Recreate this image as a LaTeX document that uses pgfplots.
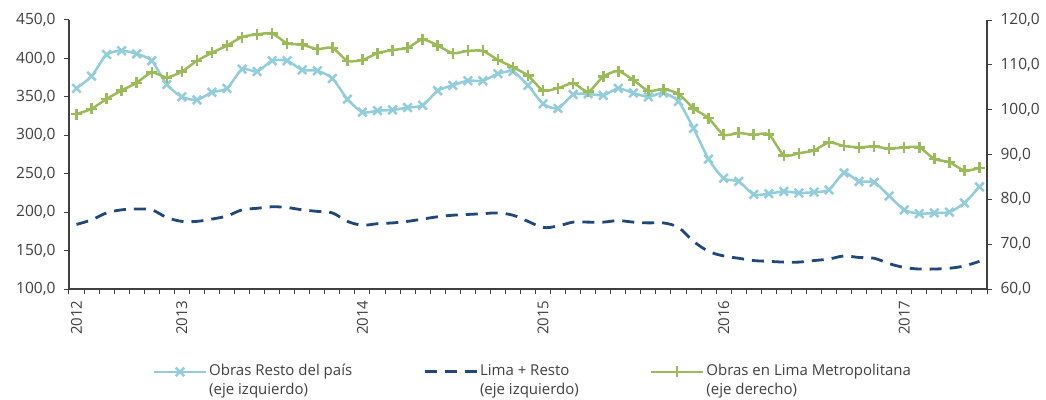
\documentclass[border=0pt]{standalone}
\usepackage{pgfplots}
\usepackage{pgfplotstable}
\pgfplotsset{compat=1.18}
\usepackage{fontspec}
\setmainfont{Open Sans}
\definecolor{cblue}{HTML}{92CDDC}
\definecolor{cgreen}{HTML}{9BBB59}
\definecolor{cdark}{HTML}{1F497D}
\definecolor{ctext}{HTML}{404040}
\definecolor{caxis}{HTML}{404040}

\pgfplotstableread{
i resto lima green
0 361 184 99.0
1 377 190 100.2
2 405 199 102.4
3 410 203 104.3
4 406 204 106.0
5 397 203 108.3
6 366 193 107.2
7 350 188 108.5
8 346 188 110.9
9 356 191 112.7
10 361 195 114.3
11 386 203 116.2
12 383 205 116.8
13 397 207 117.0
14 397 206 114.8
15 385 203 114.5
16 384 201 113.5
17 374 199 113.8
18 347 188 110.9
19 330 183 111.1
20 332 185 112.6
21 333 186 113.3
22 336 188 113.8
23 339 191 115.7
24 358 194 114.3
25 365 196 112.6
26 371 197 113.1
27 371 198 113.1
28 380 199 111.1
29 383 196 109.5
30 365 188 107.6
31 341 180 104.3
32 335 182 104.8
33 353 187 105.9
34 354 187 104.0
35 352 187 107.4
36 361 189 108.6
37 355 187 106.6
38 350 186 104.2
39 355 186 104.6
40 344 180 103.5
41 309 162 100.3
42 269 149 98.1
43 244 143 94.4
44 240 140 94.8
45 223 137 94.4
46 224 136 94.5
47 227 135 89.8
48 225 135 90.3
49 226 137 90.9
50 229 139 92.7
51 251 143 91.9
52 240 141 91.6
53 239 140 91.8
54 221 133 91.3
55 203 128 91.6
56 198 126 91.6
57 199 126 89.0
58 200 127 88.3
59 212 130 86.4
60 233 136 87.0
}\data

\begin{document}
\begin{tikzpicture}[font=\fontsize{15}{21}\selectfont]
\pgfplotsset{
  common/.style={
    at={(0,0)}, anchor=south west, scale only axis,
    width=918pt, height=269pt,
    xmin=-0.5, xmax=60.5,
    axis line style={caxis, line width=1.2pt},
    tick style={caxis, line width=1pt},
    tick align=outside,
    major tick length=5pt,
    ticklabel style={text=ctext, font=\fontsize{15.5}{18}\selectfont},
    /pgf/number format/assume math mode=true,
    yticklabel style={/pgf/number format/fixed, /pgf/number format/fixed zerofill,
      /pgf/number format/precision=1, /pgf/number format/use comma,
      /pgf/number format/1000 sep={}},
  },
}
\begin{axis}[common,
  ymin=100, ymax=450, ytick={100,150,...,450},
  axis y line*=left, axis x line*=bottom,
  yticklabel style={xshift=-5pt},
  xtick={-0.5,0.5,...,60.5}, xticklabels={},
  extra x ticks={0,7,19,31,43,55},
  extra x tick labels={2012,2013,2014,2015,2016,2017},
  extra x tick style={major tick length=0pt, xticklabel style={yshift=-8pt, rotate=90, anchor=east, font=\fontsize{15}{18}\selectfont}},
  legend columns=3,
  legend style={draw=none, fill=none, inner sep=0pt, text=ctext,
    at={(axis description cs:0.091,-0.27)}, anchor=north west,
    font=\fontsize{15}{19}\selectfont,
    nodes={align=left, inner sep=2pt},
    /tikz/every even column/.append style={column sep=69pt}},
  legend cell align=left,
]
\addplot[cblue, line width=2.5pt, smooth, tension=0.4, mark=x, mark size=6pt,
  mark options={solid, line width=2.5pt},
  legend image code/.code={\draw[mark repeat=2, mark phase=2, yshift=8pt] plot coordinates {(0pt,0pt) (26pt,0pt) (52pt,0pt)};}]
  table[x=i, y=resto]{\data};
\addlegendentry{Obras Resto del país\\(eje izquierdo)}
\addplot[cdark, line width=2.8pt, smooth, tension=0.55, dash pattern=on 12pt off 8pt,
  legend image code/.code={\draw[yshift=8pt] (0pt,0pt) -- (52pt,0pt);}]
  table[x=i, y=lima]{\data};
\addlegendentry{Lima + Resto\\(eje izquierdo)}
\addlegendimage{cgreen, line width=2.5pt, mark=+, mark size=5.5pt, mark options={solid, line width=2.5pt},
  legend image code/.code={\draw[mark repeat=2, mark phase=2, yshift=8pt] plot coordinates {(0pt,0pt) (26pt,0pt) (52pt,0pt)};}}
\addlegendentry{Obras en Lima Metropolitana\\(eje derecho)}
\end{axis}
\begin{axis}[common,
  ymin=60, ymax=120, ytick={60,70,...,120},
  axis x line=none, axis y line*=right,
  yticklabel style={xshift=5pt},
]
\addplot[cgreen, line width=2.5pt, smooth, tension=0.4, mark=+, mark size=5.5pt,
  mark options={solid, line width=2.5pt}]
  table[x=i, y=green]{\data};
\end{axis}
\pgfresetboundingbox
\path (-69pt,-110pt) rectangle (977pt,289pt);
\end{tikzpicture}
\end{document}
